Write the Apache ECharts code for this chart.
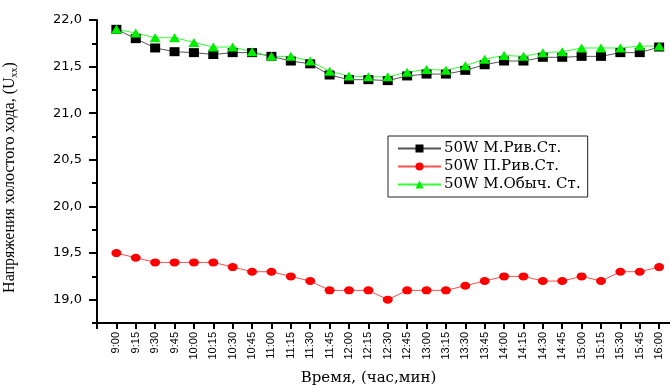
<!DOCTYPE html>
<html><head><meta charset="utf-8">
<script src="https://cdn.jsdelivr.net/npm/echarts@6/dist/echarts.min.js"></script>
<style>html,body{margin:0;padding:0;background:#fff}#c{width:670px;height:385px}</style>
</head><body><div id="c"></div>
<script>
var times = ['9:00','9:15','9:30','9:45','10:00','10:15','10:30','10:45','11:00','11:15','11:30','11:45','12:00','12:15','12:30','12:45','13:00','13:15','13:30','13:45','14:00','14:15','14:30','14:45','15:00','15:15','15:30','15:45','16:00'];
var seriesNames = ['50W М.Рив.Ст.', '50W П.Рив.Ст.', '50W М.Обыч. Ст.'];
var mRiv = [21.9,21.8,21.7,21.66,21.65,21.63,21.65,21.65,21.61,21.56,21.53,21.41,21.36,21.36,21.35,21.4,21.42,21.42,21.46,21.52,21.56,21.56,21.6,21.6,21.61,21.61,21.65,21.65,21.71];
var pRiv = [19.5,19.45,19.4,19.4,19.4,19.4,19.35,19.3,19.3,19.25,19.2,19.1,19.1,19.1,19.0,19.1,19.1,19.1,19.15,19.2,19.25,19.25,19.2,19.2,19.25,19.2,19.3,19.3,19.35];
var mObych = [21.9,21.86,21.81,21.81,21.76,21.71,21.71,21.66,21.61,21.61,21.56,21.45,21.4,21.39,21.39,21.44,21.47,21.46,21.51,21.58,21.62,21.61,21.65,21.66,21.7,21.7,21.7,21.72,21.72];
var yMajorTicks = [19.0,19.5,20.0,20.5,21.0,21.5,22.0];

function pairs(arr){ return arr.map(function(v,i){ return [i, v]; }); }
var tickIdx = [-1].concat(times.map(function(t,i){return i;}));

var chart = echarts.init(document.getElementById('c'));
chart.setOption({
  animation: false,
  backgroundColor: '#fff',
  grid: {left: 97, right: 0, top: 20, bottom: 62, outerBoundsMode: 'none', containLabel: false},
  legend: {
    orient: 'vertical', left: 388, top: 136,
    padding: [5, 7, 5, 9], itemGap: 3, itemWidth: 43, itemHeight: 10,
    borderColor: '#222', borderWidth: 1,
    textStyle: {fontFamily: 'DejaVu Serif', fontSize: 15, color: '#000', padding: [0,0,0,-2]},
    data: seriesNames
  },
  xAxis: {
    type: 'value', min: -1, max: 28.56,
    splitLine: {show: false},
    axisLine: {onZero: false, lineStyle: {color: '#000', width: 2}},
    axisTick: {customValues: tickIdx, inside: false, length: 6, lineStyle: {color: '#000', width: 2}},
    axisLabel: {
      customValues: tickIdx.slice(1), rotate: 90, margin: 9,
      fontFamily: 'Liberation Sans', fontSize: 11, color: '#000',
      formatter: function(v){ return times[Math.round(v)] || ''; }
    },
    name: 'Время, (час,мин)', nameLocation: 'middle', nameGap: 48,
    nameTextStyle: {fontFamily: 'DejaVu Serif', fontSize: 15, color: '#000', padding: [0, 30, 0, 0]}
  },
  yAxis: [{
    type: 'value', min: 18.75, max: 22, interval: 0.25,
    splitLine: {show: false},
    axisLine: {show: true, onZero: false, lineStyle: {color: '#000', width: 2}},
    axisTick: {show: true, length: 5, lineStyle: {color: '#000', width: 2}},
    axisLabel: {
      margin: 15, fontFamily: 'DejaVu Sans', fontSize: 13, color: '#000',
      formatter: function(v){ return (Math.abs(v*2 - Math.round(v*2)) < 1e-6) ? v.toFixed(1).replace('.', ',') : ''; }
    },
    name: '{t|Напряжения холостого хода, (U}{s|xx}{t|)}',
    nameLocation: 'middle', nameGap: 78, nameRotate: 90,
    nameTextStyle: {
      padding: [0, 12, 0, 0],
      rich: {
        t: {fontFamily: 'Liberation Serif', fontSize: 16, color: '#000'},
        s: {fontFamily: 'Liberation Serif', fontSize: 10, color: '#000', verticalAlign: 'bottom', padding: [8,0,0,0]}
      }
    }
  }, {
    type: 'value', min: 18.75, max: 22, position: 'left', offset: 0,
    splitLine: {show: false},
    axisLine: {show: false, onZero: false},
    axisTick: {show: true, customValues: yMajorTicks, length: 8, lineStyle: {color: '#000', width: 2}},
    axisLabel: {show: false}
  }],
  series: [{
    name: seriesNames[0], type: 'line', data: pairs(mRiv),
    symbol: 'rect', symbolSize: [10, 9],
    itemStyle: {color: '#000'}, lineStyle: {color: '#555', width: 1}
  }, {
    name: seriesNames[1], type: 'line', data: pairs(pRiv),
    symbol: 'circle', symbolSize: [10, 8],
    itemStyle: {color: '#ff0000'}, lineStyle: {color: '#ff5050', width: 1}
  }, {
    name: seriesNames[2], type: 'line', data: pairs(mObych),
    symbol: 'triangle', symbolSize: [11, 9],
    itemStyle: {color: '#00ee00'}, lineStyle: {color: '#33ff33', width: 1}
  }]
});
</script></body></html>
